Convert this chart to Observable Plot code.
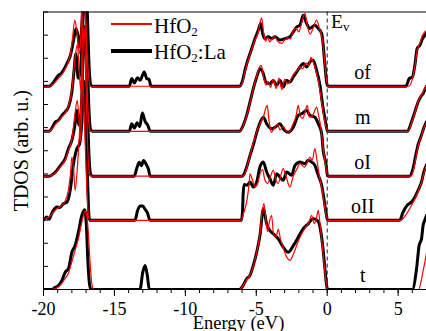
<!DOCTYPE html>
<html>
<head>
<meta charset="utf-8">
<script src="https://cdn.jsdelivr.net/npm/d3@7"></script>
<script src="https://cdn.jsdelivr.net/npm/@observablehq/plot@0.6"></script>
<style>
  body { margin: 0; background: #fff; }
  #wrap { position: relative; width: 426px; height: 331px; font-family: "Liberation Serif", "Times New Roman", serif; color: #000; }
  .lg { position: absolute; line-height: 1; white-space: nowrap; }
  .lg sub { font-size: 13px; vertical-align: -3px; line-height: 0; }
  .sw { position: absolute; }
</style>
</head>
<body>
<div id="wrap">
  <div id="chart"></div>
  <div class="sw" style="left:111px;top:23px;width:41px;height:1.5px;background:#ff0000"></div>
  <div class="sw" style="left:111px;top:49px;width:41px;height:3.5px;background:#000"></div>
  <div class="lg" style="left:154px;top:16px;font-size:21px">HfO<sub>2</sub></div>
  <div class="lg" style="left:154px;top:42px;font-size:21px">HfO<sub>2</sub>:La</div>
  <div class="lg" style="left:331px;top:11.5px;font-size:19.5px">E<sub>v</sub></div>
</div>
<script>
// ---- panel layout (stack order top -> bottom) ----
const panels = ["of", "m", "oI", "oII", "t"];
const offsets = [8.79, 6.84, 4.90, 2.99, 0];
const labelE = 2.5;
const energyTicks = [-20, -15, -10, -5, 0, 5];
const minorTicks = d3.range(-20, 8);
const yTicks = d3.range(0, 13);
const serif = "'Liberation Serif', 'Times New Roman', serif";

// ---- HfO2 (red) curves: [energy, TDOS] ----
const ofPure = [[-20,0],[-19.6,0],[-19.3,0.1],[-18.94,0.35],[-18.6,0.6],[-18.35,0.9],[-18.1,1.4],[-17.95,2.1],[-17.8,2.86],[-17.65,2.4],[-17.46,1.4],[-17.35,2.5],[-17.22,5.5],[-17.1,4.0],[-16.95,1.8],[-16.8,0.3],[-16.68,0],
  [-6.2,0],[-5.95,0.2],[-5.8,0.6],[-5.56,1.15],[-5.32,1.6],[-5.09,2.0],[-4.86,2.35],[-4.72,2.8],[-4.62,2.96],[-4.5,2.4],[-4.35,1.95],[-4.2,2.1],[-4.05,1.92],[-3.9,2.05],[-3.7,2.15],[-3.5,1.95],[-3.21,1.85],[-3.0,2.0],[-2.8,2.1],[-2.6,2.05],[-2.39,2.4],[-2.2,2.5],[-2.0,2.35],[-1.8,2.75],[-1.57,3.15],[-1.4,2.6],[-1.2,2.25],[-1.0,2.5],[-0.75,2.86],[-0.55,2.5],[-0.4,2.2],[-0.28,1.7],[-0.14,0.8],[0.03,0.02],[0.12,0],
  [5.75,0],[5.95,0.2],[6.18,0.85],[6.34,1.55],[6.53,1.85],[6.72,2.2],[6.88,2.35],[7,2.4]];
const mPure = [[-20,0],[-19.6,0],[-19.4,0.1],[-19.17,0.3],[-18.94,0.45],[-18.7,0.62],[-18.47,0.8],[-18.24,1.1],[-18.0,1.8],[-17.8,3.0],[-17.62,3.75],[-17.48,2.6],[-17.38,1.8],[-17.28,3.5],[-17.15,6.5],[-17.02,4.5],[-16.9,1.5],[-16.75,0.1],[-16.65,0],
  [-6.2,0],[-5.92,0.25],[-5.68,0.65],[-5.44,1.25],[-5.21,1.85],[-4.97,2.4],[-4.8,2.75],[-4.65,2.85],[-4.5,2.4],[-4.32,2.0],[-4.15,2.15],[-4.0,1.9],[-3.8,2.25],[-3.6,1.85],[-3.4,2.3],[-3.2,1.8],[-3.0,2.25],[-2.8,2.05],[-2.6,2.2],[-2.39,2.45],[-2.15,2.6],[-1.92,2.8],[-1.75,2.7],[-1.5,2.95],[-1.3,2.85],[-1.15,3.2],[-0.99,3.0],[-0.8,2.6],[-0.6,2.1],[-0.4,1.3],[-0.2,0.5],[0.05,0.02],[0.12,0],
  [5.7,0],[5.94,0.35],[6.18,0.8],[6.41,1.3],[6.6,1.55],[6.76,1.7],[7,2.0]];
const oIPure = [[-20,0],[-19.6,0],[-19.3,0.08],[-19.06,0.22],[-18.8,0.42],[-18.47,0.7],[-18.24,1.1],[-18.0,1.6],[-17.8,2.6],[-17.62,3.28],[-17.48,2.3],[-17.38,1.5],[-17.28,3.5],[-17.15,6.5],[-17.02,4.5],[-16.9,1.5],[-16.75,0.1],[-16.65,0],
  [-6.0,0],[-5.85,0.05],[-5.68,0.35],[-5.44,0.9],[-5.21,1.45],[-4.95,1.95],[-4.7,2.3],[-4.5,2.55],[-4.35,2.9],[-4.23,3.06],[-4.1,2.4],[-3.95,1.9],[-3.75,2.05],[-3.5,2.25],[-3.33,2.0],[-3.1,2.15],[-2.9,1.95],[-2.7,1.9],[-2.45,2.2],[-2.2,2.6],[-2.04,3.06],[-1.9,2.6],[-1.72,2.5],[-1.55,2.8],[-1.41,3.06],[-1.25,2.55],[-1.05,2.6],[-0.9,2.8],[-0.75,2.99],[-0.6,2.6],[-0.45,2.1],[-0.3,1.3],[-0.12,0.5],[0.03,0.02],[0.12,0],
  [5.9,0],[6.1,0.3],[6.28,0.9],[6.45,1.4],[6.62,1.7],[6.8,2.05],[7,2.3]];
const oIIPure = [[-20,0],[-19.8,0.1],[-19.6,0.15],[-19.3,0.35],[-19.06,0.5],[-18.8,0.6],[-18.5,0.8],[-18.25,1.3],[-18.1,2.0],[-18.0,2.74],[-17.88,2.2],[-17.77,1.3],[-17.6,2.4],[-17.4,4.5],[-17.25,6.5],[-17.1,4.0],[-16.95,1.5],[-16.82,0.1],[-16.72,0],
  [-6.1,0],[-5.9,0.3],[-5.68,0.8],[-5.5,1.6],[-5.44,2.02],[-5.3,1.8],[-5.09,1.44],[-4.9,1.6],[-4.74,2.0],[-4.55,2.2],[-4.4,1.75],[-4.2,1.6],[-4.0,1.9],[-3.8,2.16],[-3.6,1.7],[-3.45,1.6],[-3.25,2.0],[-3.1,2.24],[-2.9,1.9],[-2.63,1.44],[-2.4,1.9],[-2.15,2.2],[-1.92,2.45],[-1.6,2.3],[-1.4,2.5],[-1.22,2.74],[-1.05,2.6],[-0.87,3.1],[-0.72,2.6],[-0.55,1.9],[-0.35,1.3],[-0.18,0.6],[0.0,0.05],[0.1,0],
  [5.2,0],[5.5,0.2],[5.9,0.6],[6.2,0.95],[6.45,1.3],[6.7,1.75],[6.85,2.1],[7,2.4]];
const tPure = [[-20,0],[-19.4,0],[-19.1,0.05],[-18.8,0.2],[-18.5,0.45],[-18.24,0.7],[-18.0,1.2],[-17.77,1.7],[-17.54,2.2],[-17.3,2.9],[-17.05,3.4],[-16.88,2.8],[-16.72,1.2],[-16.58,0.2],[-16.45,0],
  [-6.2,0],[-5.95,0.15],[-5.68,0.42],[-5.45,0.6],[-5.21,1.0],[-4.97,1.6],[-4.74,2.4],[-4.6,3.3],[-4.46,3.71],[-4.32,3.0],[-4.2,2.5],[-4.05,3.0],[-3.92,3.2],[-3.78,2.4],[-3.6,2.3],[-3.45,2.6],[-3.3,2.2],[-3.1,1.8],[-2.85,1.4],[-2.63,1.26],[-2.4,1.5],[-2.1,2.0],[-1.8,2.4],[-1.5,2.7],[-1.3,2.9],[-1.1,3.2],[-0.9,2.85],[-0.75,3.1],[-0.63,3.42],[-0.5,2.8],[-0.35,1.9],[-0.18,0.9],[0.0,0.05],[0.08,0],
  [6.45,0],[6.6,0.3],[6.76,0.8],[6.95,1.4],[7,1.6]];

// ---- HfO2:La (black) curves: [energy, TDOS] ----
const ofLa = [[-20,0],[-19.6,0],[-19.3,0.16],[-19.1,0.35],[-18.94,0.48],[-18.75,0.55],[-18.6,0.69],[-18.35,0.98],[-18.1,1.34],[-17.9,1.92],[-17.7,2.5],[-17.55,2.1],[-17.45,1.7],[-17.3,2.6],[-17.15,4.5],[-17.02,5.2],[-16.9,3.0],[-16.78,0.8],[-16.66,0.05],[-16.55,0],
  [-13.95,0],[-13.78,0.33],[-13.6,0.14],[-13.38,0.37],[-13.19,0.26],[-12.9,0.62],[-12.72,0.33],[-12.56,0.29],[-12.42,0],
  [-6.2,0],[-5.96,0.26],[-5.8,0.69],[-5.56,1.2],[-5.32,1.63],[-5.09,2.06],[-4.86,2.42],[-4.69,2.71],[-4.55,2.28],[-4.39,2.06],[-4.15,2.14],[-3.92,2.06],[-3.68,2.14],[-3.33,2.0],[-2.98,2.06],[-2.63,2.14],[-2.39,2.35],[-2.15,2.56],[-1.92,2.64],[-1.69,3.07],[-1.45,2.71],[-1.22,2.5],[-0.87,2.64],[-0.63,2.5],[-0.39,2.28],[-0.28,1.77],[-0.16,0.91],[0,0.05],[0.1,0],
  [5.55,0],[5.78,0.33],[6.01,0.4],[6.18,0.91],[6.34,1.63],[6.53,1.77],[6.72,2.06],[6.88,2.2],[7,2.3]];
const mLa = [[-20,0],[-19.6,0],[-19.4,0.15],[-19.17,0.4],[-18.94,0.48],[-18.7,0.69],[-18.47,0.84],[-18.24,1.05],[-18.0,1.7],[-17.85,2.6],[-17.72,3.36],[-17.55,2.3],[-17.4,2.6],[-17.2,5.0],[-17.05,6.5],[-16.92,3.5],[-16.8,1.0],[-16.66,0.05],[-16.55,0],
  [-13.95,0],[-13.78,0.33],[-13.6,0.14],[-13.4,0.37],[-13.22,0.2],[-13.03,0.79],[-12.84,0.43],[-12.65,0.27],[-12.47,0],
  [-6.2,0],[-5.92,0.26],[-5.68,0.69],[-5.44,1.27],[-5.21,1.85],[-4.97,2.35],[-4.74,2.71],[-4.55,2.57],[-4.32,2.13],[-4.04,2.06],[-3.8,2.2],[-3.56,1.99],[-3.33,2.2],[-3.1,1.92],[-2.86,2.2],[-2.63,2.13],[-2.39,2.35],[-2.15,2.57],[-1.92,2.78],[-1.69,2.93],[-1.45,2.78],[-1.22,3.0],[-0.99,3.07],[-0.75,2.64],[-0.51,1.99],[-0.32,1.13],[-0.16,0.55],[0.02,0.02],[0.1,0],
  [5.65,0],[5.94,0.4],[6.18,0.84],[6.41,1.27],[6.6,1.5],[6.76,1.63],[6.88,1.8],[7,1.95]];
const oILa = [[-20,0],[-19.6,0],[-19.3,0.1],[-19.06,0.25],[-18.8,0.46],[-18.47,0.76],[-18.24,1.2],[-18.0,1.55],[-17.77,2.27],[-17.65,2.85],[-17.5,2.2],[-17.35,2.8],[-17.18,5.5],[-17.05,6.5],[-16.92,3.5],[-16.8,1.0],[-16.66,0.05],[-16.55,0],
  [-13.6,0],[-13.42,0.35],[-13.25,0.6],[-13.1,0.45],[-12.95,0.68],[-12.75,0.5],[-12.6,0.3],[-12.48,0],
  [-6.0,0],[-5.9,0.05],[-5.68,0.39],[-5.44,0.9],[-5.21,1.35],[-4.86,2.11],[-4.5,2.55],[-4.27,2.27],[-3.92,2.05],[-3.6,2.15],[-3.33,2.27],[-3.1,2.05],[-2.75,1.9],[-2.39,2.12],[-2.04,2.63],[-1.8,2.7],[-1.45,2.84],[-1.22,2.63],[-0.87,2.55],[-0.63,2.27],[-0.39,1.84],[-0.28,1.11],[-0.09,0.54],[0.02,0.02],[0.1,0],
  [5.8,0],[6.06,0.36],[6.25,0.93],[6.41,1.37],[6.58,1.66],[6.76,2.0],[6.88,2.2],[7,2.35]];
const oIILa = [[-20,0.02],[-19.9,0.08],[-19.77,0.14],[-19.6,0.05],[-19.45,0.25],[-19.3,0.43],[-19.06,0.58],[-18.85,0.55],[-18.6,0.72],[-18.35,0.79],[-18.1,1.37],[-17.9,2.38],[-17.65,3.1],[-17.46,3.3],[-17.3,4.2],[-17.15,6.0],[-17.0,4.0],[-16.88,1.5],[-16.78,0.1],[-16.7,0],
  [-13.55,0],[-13.38,0.4],[-13.19,0.62],[-13.0,0.62],[-12.84,0.48],[-12.68,0.33],[-12.49,0],
  [-6.05,0],[-5.97,0.4],[-5.92,1.2],[-5.85,1.55],[-5.63,1.52],[-5.44,1.66],[-5.21,1.44],[-4.97,1.66],[-4.74,2.31],[-4.5,2.52],[-4.27,2.09],[-4.04,1.8],[-3.8,1.52],[-3.56,2.02],[-3.33,1.87],[-3.1,1.73],[-2.86,2.09],[-2.51,1.95],[-2.27,2.38],[-1.92,2.52],[-1.57,2.45],[-1.34,2.6],[-1.1,2.52],[-0.87,2.38],[-0.63,1.95],[-0.39,1.52],[-0.23,0.94],[-0.09,0.36],[0.02,0.02],[0.1,0],
  [5.1,0],[5.35,0.36],[5.63,0.65],[5.94,0.79],[6.18,1.0],[6.41,1.3],[6.65,1.66],[6.81,2.09],[7,2.4]];
const tLa = [[-20,0],[-19.4,0],[-19.2,0.08],[-18.94,0.17],[-18.7,0.39],[-18.47,0.75],[-18.24,0.9],[-18.0,1.61],[-17.77,1.9],[-17.54,2.48],[-17.3,3.2],[-17.1,3.45],[-16.98,2.8],[-16.87,1.2],[-16.75,0.2],[-16.66,0.02],[-16.55,0],
  [-13.2,0],[-13.0,0.75],[-12.84,1.04],[-12.68,0.6],[-12.54,0],
  [-6.2,0],[-5.95,0.15],[-5.68,0.46],[-5.45,0.6],[-5.21,1.04],[-4.97,1.61],[-4.74,2.34],[-4.5,3.49],[-4.27,2.84],[-4.04,2.55],[-3.8,2.41],[-3.45,2.19],[-3.1,1.83],[-2.75,1.61],[-2.39,1.9],[-2.04,2.26],[-1.69,2.63],[-1.34,2.84],[-0.99,3.06],[-0.7,2.99],[-0.51,2.7],[-0.32,1.9],[-0.16,0.9],[0.0,0.05],[0.08,0],
  [6.0,0],[6.3,0.9],[6.48,1.9],[6.65,2.2],[6.76,2.77],[6.88,3.0],[7,3.2]];

const pureCurves = [ofPure, mPure, oIPure, oIIPure, tPure];
const laCurves = [ofLa, mLa, oILa, oIILa, tLa];

const toRows = (curves) => panels.flatMap((p, i) =>
  curves[i].map(([E, v]) => ({panel: p, E, y: v + offsets[i]})));
const pureRows = toRows(pureCurves);
const laRows = toRows(laCurves);

const chart = Plot.plot({
  width: 426,
  height: 331,
  marginLeft: 43,
  marginRight: 0,
  marginTop: 11.5,
  marginBottom: 42,
  x: {domain: [-20, 7]},
  y: {domain: [0, 12]},
  style: {fontFamily: serif, fontSize: "18px", color: "#000", background: "#fff"},
  marks: [
    Plot.line(laRows, {x: "E", y: "y", z: "panel", stroke: "#000", strokeWidth: 3, curve: "monotone-x", clip: true}),
    Plot.line(pureRows, {x: "E", y: "y", z: "panel", stroke: "#ff0000", strokeWidth: 1.2, curve: "monotone-x", clip: true}),
    Plot.ruleX([0], {stroke: "#222", strokeWidth: 1, strokeDasharray: "4,3"}),
    Plot.ruleY([12], {stroke: "#000"}),
    Plot.ruleY([0], {stroke: "#000"}),
    Plot.ruleX([-20], {stroke: "#000"}),
    Plot.axisX({ticks: energyTicks, tickSize: 7, tickPadding: 6, tickFormat: d => String(d), label: null, fontSize: 18, fontFamily: serif}),
    Plot.axisX({ticks: minorTicks, tickSize: 4, text: null, label: null}),
    Plot.axisY({ticks: yTicks, tickSize: 5, dx: 5, text: null, label: null}),
    Plot.text(panels, {x: () => labelE, y: (d, i) => offsets[i], text: d => d, dy: -14, fontSize: 20, lineAnchor: "middle", fontFamily: serif}),
    Plot.text(["TDOS (arb. u.)"], {frameAnchor: "left", textAnchor: "middle", lineAnchor: "middle", rotate: -90, dx: -22, fontSize: 20, fontFamily: serif}),
    Plot.text(["Energy (eV)"], {frameAnchor: "bottom", textAnchor: "middle", lineAnchor: "bottom", dy: 39, dx: 3.5, fontSize: 18.5, fontFamily: serif})
  ]
});
document.getElementById("chart").appendChild(chart);
</script>
</body>
</html>
